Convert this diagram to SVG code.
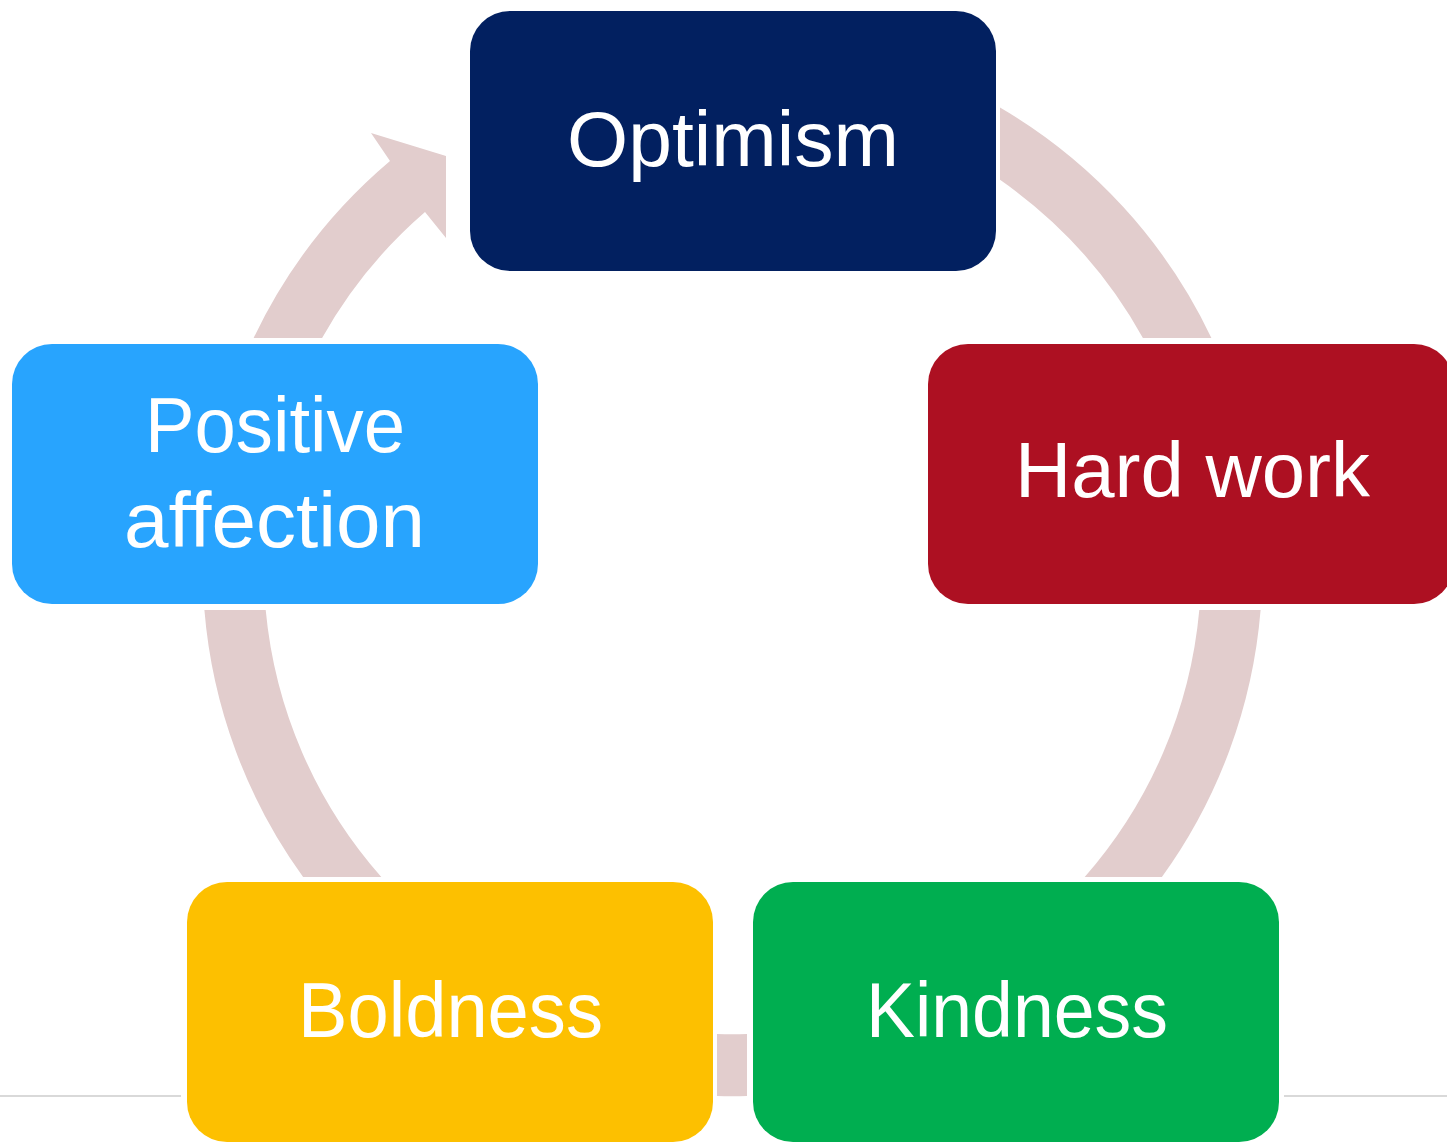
<svg xmlns="http://www.w3.org/2000/svg" width="1447" height="1146" viewBox="0 0 1447 1146">
<style>
.arc{fill:#E2CDCD}
.box{stroke:none}
.lbl{font-family:"Liberation Sans",Arial,sans-serif;font-size:78px;fill:#FFFFFF;text-anchor:middle}
.rule{stroke:#D9D9D9;stroke-width:2;fill:none}
</style>
<rect width="1447" height="1146" fill="#FFFFFF"/>
<line class="rule" x1="0" y1="1096" x2="181" y2="1096"/>
<line class="rule" x1="1284" y1="1096" x2="1447" y2="1096"/>
<g id="connectors">
<path class="arc" d="M 1000,107.5 A 530 530 0 0 1 1211.4,338 L 1142.9,338 A 469 469 0 0 0 1000,179.8 Z"/>
<path class="arc" d="M 1260.6,610 A 530 530 0 0 1 1161.9,877 L 1084.7,877 A 469 469 0 0 0 1199.3,610 Z"/>
<path class="arc" d="M 747,1096 A 530 530 0 0 1 717,1096 L 717,1034 A 469 469 0 0 0 747,1034 Z"/>
<path class="arc" d="M 303.1,877 A 530 530 0 0 1 204.4,610 L 265.7,610 A 469 469 0 0 0 381.3,877 Z"/>
<path class="arc" d="M 253.6,338 A 530 530 0 0 1 390,161 L 371,133 L 446,156 L 446,238 L 425,212 A 469 469 0 0 0 322.1,338 Z"/>
</g>
<g id="optimism">
<rect class="box" x="470" y="11" width="526" height="260" rx="40" fill="#022060"/>
<text class="lbl" x="733" y="166" textLength="332" lengthAdjust="spacingAndGlyphs">Optimism</text>
</g>
<g id="hard-work">
<rect class="box" x="928" y="344" width="526" height="260" rx="40" fill="#AD1022"/>
<text class="lbl" x="1192.5" y="497" textLength="355" lengthAdjust="spacingAndGlyphs">Hard work</text>
</g>
<g id="kindness">
<rect class="box" x="753" y="882" width="526" height="260" rx="40" fill="#00AE50"/>
<text class="lbl" x="1017" y="1037" textLength="302" lengthAdjust="spacingAndGlyphs">Kindness</text>
</g>
<g id="boldness">
<rect class="box" x="187" y="882" width="526" height="260" rx="40" fill="#FDC000"/>
<text class="lbl" x="450.5" y="1037" textLength="305" lengthAdjust="spacingAndGlyphs">Boldness</text>
</g>
<g id="positive-affection">
<rect class="box" x="12" y="344" width="526" height="260" rx="40" fill="#28A4FE"/>
<text class="lbl" x="275" y="452" textLength="260" lengthAdjust="spacingAndGlyphs">Positive</text>
<text class="lbl" x="274.5" y="547" textLength="301" lengthAdjust="spacingAndGlyphs">affection</text>
</g>
</svg>
